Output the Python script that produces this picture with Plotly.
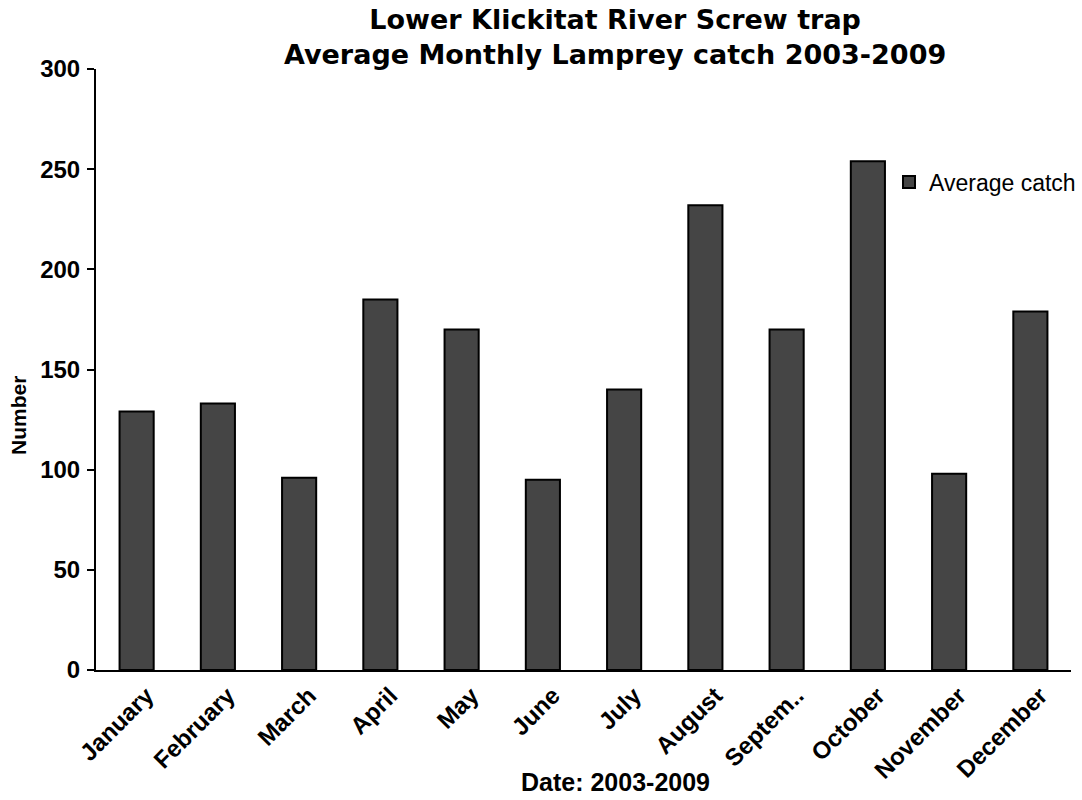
import plotly.graph_objects as go

months = ["January", "February", "March", "April", "May", "June", "July",
          "August", "Septem..", "October", "November", "December"]
avg_catch = [129, 133, 96, 185, 170, 95, 140, 232, 170, 254, 98, 179]
y_ticks = [0, 50, 100, 150, 200, 250, 300]

FONT = "Liberation Sans, Arial, sans-serif"
TFONT = "DejaVu Sans, Liberation Sans, sans-serif"

fig = go.Figure()
fig.add_trace(go.Bar(
    x=months, y=avg_catch, name="Average catch",
    marker=dict(color="#454545", line=dict(color="#000000", width=2)),
    width=0.42,
))

L, R, T, B = 96, 11, 69, 130
W, H = 1082, 800
pw, ph = W - L - R, H - T - B

def px(x):
    return (x - L) / pw

def py(y):
    return (H - B - y) / ph

fig.update_layout(
    width=W, height=H,
    margin=dict(l=L, r=R, t=T, b=B, autoexpand=False),
    plot_bgcolor="white", paper_bgcolor="white",
    font=dict(family=FONT, color="black"),
    showlegend=True,
    legend=dict(x=px(889), y=py(182), xanchor="left", yanchor="middle",
                font=dict(size=23, family=FONT), bgcolor="rgba(0,0,0,0)",
                itemwidth=30),
    xaxis=dict(showline=True, linecolor="black", linewidth=2, ticks="",
               tickangle=-45, tickfont=dict(size=24, family=FONT, weight="bold"),
               showgrid=False, ticklabelshift=10, automargin=False),
    yaxis=dict(range=[0, 300], tickvals=y_ticks, showline=True, linecolor="black",
               linewidth=2, ticks="outside", ticklen=7, tickwidth=2, tickcolor="black",
               tickfont=dict(size=24, family=FONT, weight="bold"), showgrid=False,
               zeroline=False, ticklabelstandoff=2, automargin=False),
    bargap=0.58,
)

fig.add_annotation(text="Lower Klickitat River Screw trap<br>Average Monthly Lamprey catch 2003-2009",
                   xref="paper", yref="paper", x=px(615), y=py(37),
                   xanchor="center", yanchor="middle", showarrow=False,
                   font=dict(size=27, family=TFONT, weight="bold"))
fig.add_annotation(text="Number", xref="paper", yref="paper", x=px(19), y=py(416),
                   textangle=-90, xanchor="center", yanchor="middle", showarrow=False,
                   font=dict(size=21, family=FONT, weight="bold"))
fig.add_annotation(text="Date: 2003-2009", xref="paper", yref="paper", x=px(615), y=py(782),
                   xanchor="center", yanchor="middle", showarrow=False,
                   font=dict(size=25, family=FONT, weight="bold"))

fig.write_html("out.html")
